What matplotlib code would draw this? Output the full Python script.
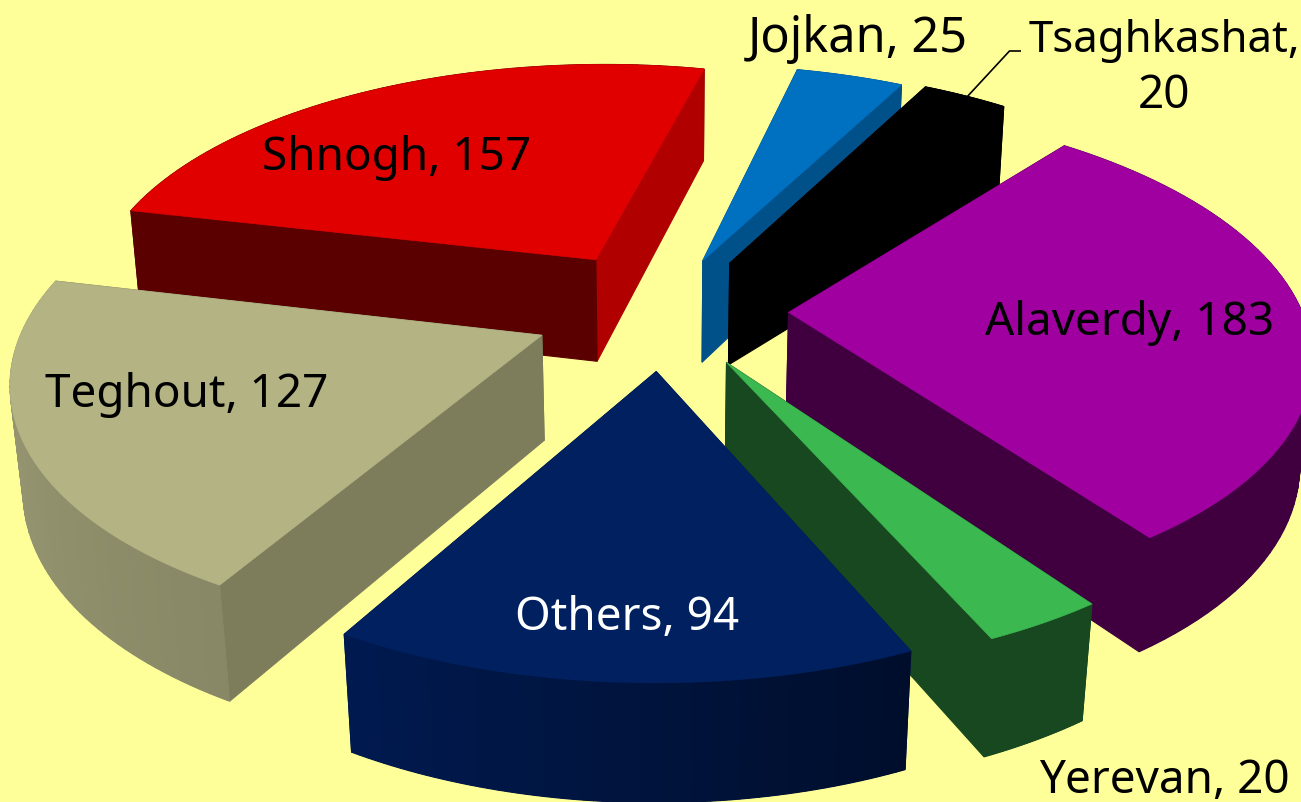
"""3D exploded pie of ore tonnage, drawn with a small perspective projection."""
import numpy as np
import matplotlib
matplotlib.use('Agg')
import matplotlib.pyplot as plt
from matplotlib.colors import to_rgb
from matplotlib.patches import Polygon

names = ['Jojkan', 'Tsaghkashat', 'Alaverdy', 'Yerevan', 'Others', 'Teghout', 'Shnogh']
values = [25, 20, 183, 20, 94, 127, 157]

# colours per slice: top, start face, end face, rim at start, rim at end
top_colors = ['#0070C0', '#000000', '#A000A0', '#3CB850', '#002060', '#B3B383', '#E00000']
start_colors = ['#00508A', '#000000', '#400040', '#17481F', '#001A50', '#7D7D5C', '#5A0000']
end_colors = ['#00508A', '#000000', '#400040', '#17481F', '#001A50', '#7D7D5C', '#B00000']
rim_start = ['#00508A', '#000000', '#400040', '#17481F', '#000E2C', '#888866', '#5A0000']
rim_end = ['#00508A', '#000000', '#400040', '#17481F', '#001A50', '#9E9E78', '#5A0000']

# camera, in pixels of the 1301x802 canvas
CX, CY, FOCAL, DIST, TILT, HEIGHT, START = 663.02, 310.53, 2877.1, 5.607, 0.4884, 0.234, 0.2326
EXPLODE = [0.2288, 0.2433, 0.2446, 0.2408, 0.2438, 0.2535, 0.2568]
STEPS = 60
FONT = 'Noto Sans'


def project(x, y, z):
    """Map pie coordinates (radius 1, z down in wall heights) to canvas pixels."""
    z = -HEIGHT * np.asarray(z, dtype=float)
    depth = DIST + y * np.cos(TILT) - z * np.sin(TILT)
    up = y * np.sin(TILT) + z * np.cos(TILT)
    return CX + FOCAL * x / depth, CY - FOCAL * up / depth


def quad(ax, xa, ya, xb, yb, color):
    xs = np.array([xa, xb, xb, xa])
    ys = np.array([ya, yb, yb, ya])
    sx, sy = project(xs, ys, np.array([0, 0, 1, 1]))
    ax.add_patch(Polygon(np.c_[sx, sy], facecolor=color, edgecolor=color, linewidth=0.8))


def draw_slice(ax, i, a0, a1):
    mid = (a0 + a1) / 2
    ox, oy = EXPLODE[i] * np.sin(mid), EXPLODE[i] * np.cos(mid)
    th = np.linspace(a0, a1, STEPS + 1)
    xs, ys = ox + np.sin(th), oy + np.cos(th)
    c0, c1 = np.array(to_rgb(rim_start[i])), np.array(to_rgb(rim_end[i]))

    # flat underlay so the seams between rim quads do not show
    ux, uy = project(np.r_[xs, xs[::-1]], np.r_[ys, ys[::-1]], np.r_[np.zeros(STEPS + 1), np.ones(STEPS + 1)])
    ax.add_patch(Polygon(np.c_[ux, uy], facecolor=tuple((c0 + c1) / 2), edgecolor='none'))

    # walls, far ones first, the top then covers what faces away
    walls = [(ox, oy, xs[0], ys[0], start_colors[i]), (ox, oy, xs[-1], ys[-1], end_colors[i])]
    for k in range(STEPS):
        walls.append((xs[k], ys[k], xs[k + 1], ys[k + 1], tuple(c0 + (c1 - c0) * k / STEPS)))
    walls.sort(key=lambda w: -(w[1] + w[3]))
    for xa, ya, xb, yb, color in walls:
        quad(ax, xa, ya, xb, yb, color)

    sx, sy = project(np.r_[ox, xs], np.r_[oy, ys], np.zeros(STEPS + 2))
    ax.add_patch(Polygon(np.c_[sx, sy], facecolor=top_colors[i], edgecolor=top_colors[i], linewidth=0.5))


fig, ax = plt.subplots(figsize=(13.01, 8.02), dpi=100, facecolor='#FFFF99')
ax.set_position([0, 0, 1, 1])
ax.set_xlim(0, 1301)
ax.set_ylim(802, 0)
ax.axis('off')

edges = START + np.cumsum([0] + values) / sum(values) * 2 * np.pi
order = sorted(range(len(values)), key=lambda i: -np.cos((edges[i] + edges[i + 1]) / 2))
for i in order:
    draw_slice(ax, i, edges[i], edges[i + 1])

# leader line for the Tsaghkashat label
ax.plot([1021, 1009.5, 966], [51, 51, 98], color='black', linewidth=1.2, solid_capstyle='butt')

# x, baseline y, colour, font size
label_pos = {
    'Jojkan': (858, 52, 'black', 35),
    'Tsaghkashat': (1164, 52, 'black', 31.5),
    'Alaverdy': (1130, 335, 'black', 33),
    'Yerevan': (1164, 793, 'black', 33),
    'Others': (627, 630, 'white', 33),
    'Teghout': (187, 407, 'black', 33),
    'Shnogh': (397, 170, 'black', 33),
}
for name, value in zip(names, values):
    x, y, color, size = label_pos[name]
    if name == 'Tsaghkashat':
        ax.text(x, y, f'{name},', ha='center', va='baseline', color=color, fontsize=size, family=FONT)
        ax.text(x, y + 56, f'{value}', ha='center', va='baseline', color=color, fontsize=33, family=FONT)
    else:
        ax.text(x, y, f'{name}, {value}', ha='center', va='baseline', color=color, fontsize=size, family=FONT)

fig.savefig('out.png', dpi=100, facecolor=fig.get_facecolor())
